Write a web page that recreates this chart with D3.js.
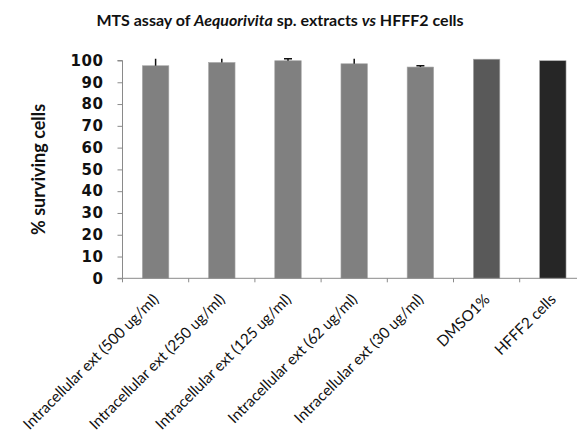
<!DOCTYPE html>
<html>
<head>
<meta charset="utf-8">
<script src="https://cdn.jsdelivr.net/npm/d3@7"></script>
<style>
  html, body { margin: 0; padding: 0; background: #fff; }
  svg { display: block; }
</style>
</head>
<body>
<svg id="chart" width="577" height="441"></svg>
<script>
const categories = [
  "Intracellular ext (500 ug/ml)",
  "Intracellular ext (250 ug/ml)",
  "Intracellular ext (125 ug/ml)",
  "Intracellular ext (62 ug/ml)",
  "Intracellular ext (30 ug/ml)",
  "DMSO1%",
  "HFFF2 cells"
];
const values = [97.6, 99.1, 99.9, 98.5, 97.0, 100.6, 99.9];
const errors = [3.2, 1.7, 0.9, 2.3, 0.6, 0, 0];
const barColors = ["#808080", "#808080", "#808080", "#808080", "#808080", "#595959", "#262626"];
const yTicks = [0, 10, 20, 30, 40, 50, 60, 70, 80, 90, 100];
const titleParts = [
  { text: "MTS assay of ", italic: false },
  { text: "Aequorivita", italic: true },
  { text: " sp. extracts ", italic: false },
  { text: "vs", italic: true },
  { text: " HFFF2 cells", italic: false }
];
const yLabel = "% surviving cells";

const svg = d3.select("#chart");
const axisColor = "#8a8a8a";
const axisX = 122.5;

const x = d3.scaleBand().domain(categories).range([axisX, axisX + 463.4]).paddingInner(0.6).paddingOuter(0.3);
const y = d3.scaleLinear().domain([0, 100]).range([278.3, 60.5]);

// Y axis
const yAxis = svg.append("g").attr("transform", `translate(${axisX},0)`)
  .call(d3.axisLeft(y).tickValues(yTicks).tickSize(5).tickPadding(14));
yAxis.select(".domain").attr("stroke", axisColor).attr("d", `M-5,${y(100)}H0V${y(0)}`);
yAxis.selectAll(".tick line").attr("stroke", axisColor);
yAxis.selectAll(".tick text")
  .attr("font-family", "DejaVu Sans, Verdana, sans-serif")
  .attr("font-size", 15)
  .attr("font-weight", "bold")
  .attr("letter-spacing", 0.6)
  .attr("fill", "#111");

// Bars
svg.append("g").selectAll("rect").data(categories).join("rect")
  .attr("x", d => x(d))
  .attr("width", x.bandwidth())
  .attr("y", (d, i) => y(values[i]))
  .attr("height", (d, i) => y(0) - y(values[i]))
  .attr("fill", (d, i) => barColors[i])
  .attr("stroke", "#a8a8a8")
  .attr("stroke-width", 0.6);

// Error bars (upper half visible above the bar)
const eg = svg.append("g").attr("stroke", "#111").attr("stroke-width", 1.5);
categories.forEach((c, i) => {
  if (errors[i] <= 0) return;
  const cx = x(c) + x.bandwidth() / 2;
  eg.append("line").attr("x1", cx).attr("x2", cx)
    .attr("y1", y(values[i])).attr("y2", y(values[i] + errors[i]));
  if (errors[i] < 1) {
    eg.append("line").attr("x1", cx - 4).attr("x2", cx + 4)
      .attr("y1", y(values[i] + errors[i])).attr("y2", y(values[i] + errors[i]));
  }
});

// X axis line and ticks (category boundaries)
const step = x.step();
const boundaries = d3.range(categories.length + 1).map(i => axisX + i * step);
svg.append("line").attr("x1", axisX - 5).attr("x2", axisX + 463.4).attr("y1", y(0)).attr("y2", y(0))
  .attr("stroke", axisColor).attr("stroke-width", 1);
svg.append("g").selectAll("line").data(boundaries).join("line")
  .attr("x1", d => d).attr("x2", d => d)
  .attr("y1", y(0)).attr("y2", y(0) + 4)
  .attr("stroke", axisColor);

// X labels
svg.append("g").selectAll("text").data(categories).join("text")
  .attr("transform", d => `translate(${x(d) + x.bandwidth() / 2 + 4},${y(0) + 22}) rotate(-45)`)
  .attr("text-anchor", "end")
  .attr("font-family", "Lato, sans-serif")
  .attr("font-size", 15.2)
  .attr("fill", "#111")
  .text(d => d);

// Y label
svg.append("text")
  .attr("transform", `translate(45,${(y(0) + y(100)) / 2}) rotate(-90)`)
  .attr("text-anchor", "middle")
  .attr("font-family", "Lato, sans-serif")
  .attr("font-size", 18)
  .attr("font-weight", "bold")
  .attr("fill", "#111")
  .text(yLabel);

// Title
const title = svg.append("text")
  .attr("x", 280).attr("y", 26)
  .attr("text-anchor", "middle")
  .attr("font-family", "Lato, sans-serif")
  .attr("font-size", 16)
  .attr("font-weight", "bold")
  .attr("fill", "#111");
title.selectAll("tspan").data(titleParts).join("tspan")
  .attr("font-style", d => d.italic ? "italic" : "normal")
  .text(d => d.text);
</script>
</body>
</html>
